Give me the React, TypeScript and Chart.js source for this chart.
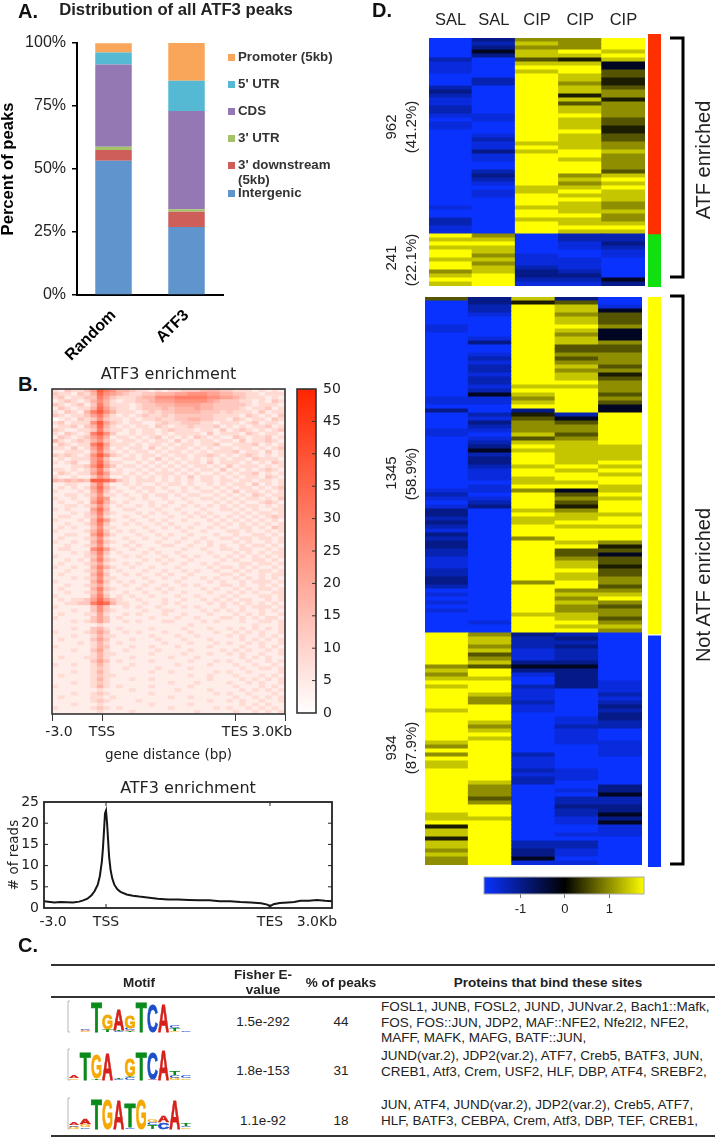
import React, { useEffect, useRef } from "react";
import { Chart, registerables } from "chart.js";

Chart.register(...registerables);
Chart.defaults.font.family = "'Liberation Sans', Arial, sans-serif";
Chart.defaults.color = "#222";

const SANS = "'Liberation Sans', Arial, sans-serif";
const DEJAVU = "'DejaVu Sans', sans-serif";

/* ---------- Panel A ---------- */
const peakCategories = ["Random", "ATF3"];
const intergenic = [53.3, 27];
const downstream = [4.2, 6];
const utr3 = [1.3, 1];
const cds = [32.7, 39];
const utr5 = [4.7, 12];
const promoter = [3.7, 15];
const percentTicks = [0, 25, 50, 75, 100];

/* ---------- Panel B ---------- */
const heatTitle = "ATF3 enrichment";
const heatColumnKeys = Array.from("abcdefghijklmnopqrstuvwxyzABCDEFGHIJ");
const heatRows = [
  "213223597 644322121 223334443 322212121",
  "322132486 543223344 455666554 433221222",
  "231223375 322234466 677777665 543222121",
  "123212464 212233455 566666543 332212132",
  "321231374 222123344 455554433 333212221",
  "132122485 322123334 344454433 332122312",
  "213214796 422212323 344443332 322213122",
  "321223574 212123223 233333322 221321213",
  "012132363 221212232 233443322 132122132",
  "231222695 321221123 223332212 221231221",
  "122313484 212122132 122322231 212122312",
  "321122373 221212212 322212213 123212123",
  "213212796 311212212 122221312 221321221",
  "132123574 122121231 212132121 132122312",
  "421232463 212212122 131212212 213122321",
  "132122795 222121221 212212231 122231212",
  "221312584 121221312 122121212 212212123",
  "112221473 212122121 221212122 231221312",
  "323212696 321212212 122122321 212321212",
  "121222573 112212131 212121212 122132221",
  "212311584 221121212 121221312 221212132",
  "111223695 312212121 212122121 312221212",
  "221212473 121121212 121212213 121212321",
  "132122585 221212122 212121121 212231212",
  "211211364 112121212 121312212 121221321",
  "434343998 632122212 121212212 212212212",
  "112211473 112121121 221211212 122131212",
  "121212584 211212212 112121121 212212123",
  "211121473 121121211 212112212 131221212",
  "112212362 212112122 121221121 212132122",
  "211211475 111212112 112112212 121221213",
  "121121584 212111211 211211121 212112321",
  "112212363 121121212 112121212 121221212",
  "212111584 112211121 121112112 212121122",
  "111212473 211121212 112121211 121212212",
  "122112362 112112111 211212121 212121232",
  "211121485 211211212 112111212 121212121",
  "112112473 112121121 211121121 212121212",
  "121211362 211112112 121211212 112212132",
  "211112473 121211211 112112111 221211212",
  "112211584 211121121 211211121 121122121",
  "121112362 112112112 112112112 212212212",
  "211211473 211211121 121121211 121211212",
  "112112362 112121112 211211212 112122121",
  "122111685 211211211 112112112 212211212",
  "111212473 121112121 121111211 121212122",
  "211112362 112121112 112121121 212121212",
  "112121473 211112121 211211112 121122121",
  "121112352 112121112 112112121 112212212",
  "211211474 211211211 121111212 212121121",
  "112112362 121112112 112121121 121212212",
  "121111473 112121121 211211112 212112122",
  "111212362 211112112 112112121 121212121",
  "211111473 121211211 121111212 112122212",
  "112112352 112112112 112121112 212112121",
  "121111473 211121121 211112121 121212212",
  "112112362 112112112 112111211 212121122",
  "211111473 121211211 121121112 121112212",
  "121223585 321121112 112112121 212211212",
  "112233798 422112112 121111212 121212121",
  "211111363 112121121 112121112 112122212",
  "111211363 211112112 211112121 212112121",
  "121112252 112121112 112111211 121212112",
  "211111353 121111211 121121112 212121221",
  "111212353 112121112 211112121 112112212",
  "111111121 111111111 111211111 111121112",
  "111211342 121111211 112111211 212121212",
  "211112353 112121112 111211121 121212112",
  "111211242 211111211 121121111 212112121",
  "121111353 111211121 112111211 112121212",
  "111121242 121111112 111211121 211212112",
  "211111243 111211211 121111211 112112121",
  "111211352 112111121 111211112 121211212",
  "111111242 211111211 112111211 212112112",
  "121112242 111211111 211121111 112121211",
  "111111353 121111211 111211121 211211212",
  "211211242 111211111 121111211 121121121",
  "111111232 112111121 111211111 112112212",
  "111211242 111111211 211111121 211211112",
  "121111232 211111111 111211211 121112121",
  "111111242 111211211 111111211 112121212",
  "111211232 111111111 211121111 211212112",
  "211111242 121111211 111211111 121112121",
  "111111121 111211111 121111211 112121212",
  "111211232 111111211 111111121 211211121",
  "121111221 211111111 211211111 121121212",
  "111111232 111121111 111111211 212112112",
  "111211121 111111211 111211111 112121211",
  "211111232 121111111 211111121 211212121",
  "111111121 111211111 111121111 121121212",
];
const heatTickValues = [-3, -2.58, 0, 7.98, 10.2, 10.98];
const heatTickLabels = ["", "-3.0", "TSS", "TES", "3.0Kb", ""];
const heatColourTicks = [0, 5, 10, 15, 20, 25, 30, 35, 40, 45, 50];

const profileKb = [-3, -2.8, -2.5, -2.2, -1.9, -1.6, -1.3, -1.1, -0.9, -0.7, -0.55, -0.4, -0.3, -0.2, -0.15, -0.1, -0.05, 0, 0.05, 0.1, 0.15, 0.22, 0.3, 0.4, 0.55, 0.7, 1, 1.3, 1.6, 2, 2.5, 3, 3.5, 4, 4.5, 5, 5.5, 6, 6.5, 7, 7.5, 7.8, 7.93, 8.1, 8.4, 8.8, 9.1, 9.4, 9.8, 10.2, 10.6, 10.93];
const profileReads = [1.6, 1.5, 1.3, 1.4, 1.35, 1.3, 1.5, 1.8, 2.2, 3, 4, 5.5, 7.5, 11, 14, 18, 22.3, 23, 20, 16, 12, 9, 7, 5.5, 4.4, 3.8, 3.2, 2.9, 2.7, 2.5, 2.2, 2, 2, 1.9, 1.8, 1.8, 1.6, 1.6, 1.4, 1.3, 1.1, 0.8, 0.4, 0.9, 1.2, 1.3, 1.4, 1.7, 1.7, 1.9, 1.7, 1.6];
const profileTickValues = [-2.56, 0, 7.93, 10.2];
const profileTickLabels = ["-3.0", "TSS", "TES", "3.0Kb"];
const profileYTicks = [0, 5, 10, 15, 20, 25];

/* ---------- Panel C ---------- */
const motifHeaders = ["Motif", "% of peaks", "Proteins that bind these sites"];
const eValues = ["1.5e-292", "1.8e-153", "1.1e-92"];
const percentPeaks = ["44", "31", "18"];
const proteins1 = ["FOSL1, JUNB, FOSL2, JUND, JUNvar.2, Bach1::Mafk,", "FOS, FOS::JUN, JDP2, MAF::NFE2, Nfe2l2, NFE2,", "MAFF, MAFK, MAFG, BATF::JUN,"];
const proteins2 = ["JUND(var.2), JDP2(var.2), ATF7, Creb5, BATF3, JUN,", "CREB1, Atf3, Crem, USF2, HLF, DBP, ATF4, SREBF2,"];
const proteins3 = ["JUN, ATF4, JUND(var.2), JDP2(var.2), Creb5, ATF7,", "HLF, BATF3, CEBPA, Crem, Atf3, DBP, TEF, CREB1,"];
type Stack = [string, number][];
const motif1: Stack[] = [[["C", 0.03]], [["G", 0.05], ["A", 0.08], ["C", 0.05], ["T", 0.03]], [["T", 1.94]], [["T", 0.2], ["G", 0.97]], [["C", 0.08], ["T", 0.08], ["A", 1.4]], [["T", 0.05], ["A", 0.1], ["C", 0.12], ["G", 0.8]], [["T", 1.94]], [["C", 1.83]], [["A", 1.83]], [["G", 0.05], ["T", 0.2], ["C", 0.2]], [["C", 0.05]]];
const motif2: Stack[] = [[["G", 0.1], ["A", 0.15]], [["T", 1.83]], [["T", 0.1], ["G", 1.55]], [["A", 1.72]], [["C", 0.05], ["T", 0.1]], [["C", 0.2], ["T", 0.05], ["G", 1.1]], [["T", 1.83]], [["A", 0.05], ["C", 1.7]], [["A", 2.0]], [["G", 0.15], ["C", 0.15], ["T", 0.25]], [["G", 0.1], ["C", 0.2]]];
const motif3: Stack[] = [[["G", 0.15], ["C", 0.1], ["A", 0.15]], [["C", 0.1], ["G", 0.2], ["A", 0.36]], [["T", 2.0]], [["G", 1.95]], [["A", 1.9]], [["C", 0.1], ["T", 1.55]], [["G", 1.95]], [["T", 0.25], ["C", 0.2], ["G", 0.15]], [["C", 0.45], ["A", 0.45]], [["A", 1.9]], [["G", 0.1], ["C", 0.1], ["T", 0.13]]];

/* ---------- Panel D ---------- */
const sampleColumns = ["SAL", "SAL", "CIP", "CIP", "CIP"];
const sampleKeys = ["s1", "s2", "c1", "c2", "c3"];
// one string per sample, one digit per band, levels index into expressionLevels
const expressionLevels = [-1.8, -1.55, -1.25, -0.95, -0.25, 0.2, 0.6, 1.0, 1.4, 1.8];
const cluster962 = [
  "0000021110002321122101100000000000000000001002211",
  "3234300000220000000110001211311002321011000000000",
  "7878868989999999999999999989899999999889998998999",
  "7779858998878858688988898888998999787898988898898",
  "9998984466556775777766556677877776898988877877898",
];
const cluster241 = [
  "9898998997898",
  "7898878788999",
  "0000011123321",
  "2211001112321",
  "2232110000043",
];
const cluster1345 = [
  "600000011000000000000000011030000110000000000000121013323213233221112233201010100000",
  "332210000013001212212212411002132101234233211101101230000000000000000000000000000100",
  "859999999999999999999989878935677786898999899889799998988999799999999997999999989999",
  "368878898788667678788989999992467767888888989989467657889899989667889889978787788989",
  "001466674447667776756777676449999999988889898998898999899899975646656677678976776787",
];
const cluster934 = [
  "9999999978789899999899999998797988999999999998895885887877",
  "7887867869989998779999878989999999999877767999899999999999",
  "3222111343100211121100000000002111212200000000000000223341",
  "2323222343333300000001121111000000111001022322110010221101",
  "0000000000001112123233220001111000000033422334341110000000",
];
const sidebarUpperBands = [[-1, 49], [49, 62.25]];
const sidebarUpperColours = ["#ff3000", "#10e010"];
const sidebarLowerBands = [[0, 84.2], [84.7, 142.5]];
const sidebarLowerColours = ["#ffff00", "#0a32ff"];
const scaleLimits = [-1.82, 1.78];
const scaleTicks = [-1, 0, 1];

/* ---------- helpers ---------- */
const mix = (a: number[], b: number[], t: number) =>
  `rgb(${a.map((v, i) => Math.round(v + (b[i] - v) * t)).join(",")})`;
const expressionColour = (v: number) => {
  const t = Math.min(1, Math.abs(v) / 1.8);
  return v < 0 ? mix([0, 0, 0], [10, 50, 255], t) : mix([0, 0, 0], [255, 255, 0], t);
};
const enrichmentColour = (v: number) => mix([255, 255, 255], [255, 38, 0], v / 50);

const frame = (color: string, width: number, inX: number[] = [], inY: number[] = [], bothY = true) => ({
  id: "frame",
  afterDraw(chart: any) {
    const { ctx, chartArea: a, scales } = chart;
    ctx.save();
    ctx.strokeStyle = color;
    ctx.lineWidth = width;
    ctx.strokeRect(a.left, a.top, a.right - a.left, a.bottom - a.top);
    ctx.lineWidth = 1;
    const xs = Object.values(scales).find((s: any) => s.axis === "x" && s.type === "linear") as any;
    const ys = Object.values(scales).find((s: any) => s.axis === "y" && s.type === "linear") as any;
    ctx.beginPath();
    if (xs) inX.forEach((v) => {
      const p = xs.getPixelForValue(v);
      ctx.moveTo(p, a.bottom); ctx.lineTo(p, a.bottom - 4);
      ctx.moveTo(p, a.top); ctx.lineTo(p, a.top + 4);
    });
    if (ys) inY.forEach((v) => {
      const p = ys.getPixelForValue(v);
      ctx.moveTo(a.right, p); ctx.lineTo(a.right - 4, p);
      if (bothY) { ctx.moveTo(a.left, p); ctx.lineTo(a.left + 4, p); }
    });
    ctx.stroke();
    ctx.restore();
  },
});

const setTicks = (vals: number[]) => (s: any) => { s.ticks = vals.map((value) => ({ value })); };

function ChartBox({ left, top, width, height, config }: any) {
  const ref = useRef<HTMLCanvasElement>(null);
  useEffect(() => {
    const c = new Chart(ref.current as any, config());
    return () => c.destroy();
  }, []);
  return <canvas ref={ref} width={width} height={height} style={{ position: "absolute", left, top, width, height, display: "block" }} />;
}

const base = { responsive: false, animation: false as const, devicePixelRatio: 1, maintainAspectRatio: false };
const noLegend = { legend: { display: false }, tooltip: { enabled: false } };

/* ---------- chart configs ---------- */
const seriesA = [
  { label: "Intergenic", data: intergenic, backgroundColor: "#5f95cc" },
  { label: "3' downstream (5kb)", data: downstream, backgroundColor: "#cd5e5a" },
  { label: "3' UTR", data: utr3, backgroundColor: "#a5c26a" },
  { label: "CDS", data: cds, backgroundColor: "#9378b3" },
  { label: "5' UTR", data: utr5, backgroundColor: "#55b9d3" },
  { label: "Promoter (5kb)", data: promoter, backgroundColor: "#f9a65a" },
];

const configA = () => ({
  type: "bar",
  data: { labels: peakCategories, datasets: seriesA.map((s) => ({ ...s, barPercentage: 0.5, categoryPercentage: 1, borderWidth: 0 })) },
  options: {
    ...base,
    layout: { padding: { right: 129, top: 43 } },
    plugins: noLegend,
    scales: {
      x: {
        stacked: true,
        grid: { display: false },
        border: { color: "#000", width: 2 },
        ticks: { font: { size: 16, weight: "bold" }, color: "#000", minRotation: 45, maxRotation: 45, autoSkip: false, padding: 3 },
        afterFit: (s: any) => { s.height = 75; },
      },
      y: {
        stacked: true,
        min: 0,
        max: 100,
        afterBuildTicks: setTicks(percentTicks),
        title: { display: true, text: "Percent of peaks", font: { size: 16.6, weight: "bold", lineHeight: 1 }, color: "#000", padding: 0 },
        grid: { drawOnChartArea: false, tickLength: 5, color: "#000", lineWidth: 1.5 },
        border: { color: "#000", width: 2 },
        ticks: { font: { size: 16 }, color: "#222", padding: 6, callback: (v: number) => v + "%" },
        afterFit: (s: any) => { s.width = 77; },
      },
    },
  },
});

const configHeat = () => {
  const cells: any[] = [];
  const colours: string[] = [];
  heatRows.forEach((row, r) => {
    Array.from(row.replace(/ /g, "")).forEach((d, c) => {
      cells.push({ x: heatColumnKeys[c], y: [r, r + 1] });
      colours.push(enrichmentColour(Number(d) * 4.2));
    });
  });
  return {
    type: "bar",
    data: {
      labels: heatColumnKeys,
      datasets: [{ data: cells, backgroundColor: colours, barPercentage: 1, categoryPercentage: 1, borderWidth: 0, inflateAmount: 0.5 }],
    },
    options: {
      ...base,
      layout: { padding: { left: 52, right: 51 } },
      plugins: {
        ...noLegend,
        title: { display: true, text: heatTitle, font: { family: DEJAVU, size: 16, weight: "normal" }, color: "#222", padding: { top: 5.4, bottom: 4.4 } },
      },
      scales: {
        x: { type: "category", labels: heatColumnKeys, display: false },
        y: { type: "linear", min: 0, max: heatRows.length, reverse: true, display: false },
        xKb: {
          type: "linear",
          axis: "x",
          position: "bottom",
          offset: false,
          min: -3,
          max: 10.98,
          afterBuildTicks: setTicks(heatTickValues),
          title: { display: true, text: "gene distance (bp)", font: { family: DEJAVU, size: 13.5, lineHeight: 1 }, color: "#222", padding: { top: 0, bottom: 8 } },
          grid: {
            offset: false,
            drawOnChartArea: false,
            tickLength: 7,
            tickColor: (c: any) => (heatTickLabels[heatTickValues.indexOf(c.tick?.value)] === "" || [0, 7.98].includes(c.tick?.value) ? "#333" : "transparent"),
          },
          border: { display: false },
          ticks: {
            font: { family: DEJAVU, size: 14 },
            color: "#222",
            padding: 3,
            autoSkip: false,
            maxRotation: 0,
            callback: (v: number) => heatTickLabels[heatTickValues.indexOf(v)],
          },
          afterFit: (s: any) => { s.height = 56; },
        },
      },
    },
    plugins: [frame("#333", 1.6)],
  };
};

const configHeatBar = () => ({
  type: "bar",
  data: {
    labels: ["v"],
    datasets: [{
      data: [[0, 50]],
      barPercentage: 1,
      categoryPercentage: 1,
      borderWidth: 0,
      backgroundColor: (c: any) => {
        const a = c.chart.chartArea;
        if (!a) return "#fff";
        const g = c.chart.ctx.createLinearGradient(0, a.bottom, 0, a.top);
        g.addColorStop(0, enrichmentColour(0));
        g.addColorStop(1, enrichmentColour(50));
        return g;
      },
    }],
  },
  options: {
    ...base,
    layout: { padding: { left: 7, top: 29, bottom: 32 } },
    plugins: noLegend,
    scales: {
      x: { display: false },
      y: {
        position: "right",
        min: 0,
        max: 50,
        afterBuildTicks: setTicks(heatColourTicks),
        grid: { display: false, drawTicks: false },
        border: { display: false },
        ticks: { font: { family: DEJAVU, size: 14 }, color: "#222", padding: 7 },
        afterFit: (s: any) => { s.width = 34; },
      },
    },
  },
  plugins: [frame("#333", 1.6, [], heatColourTicks.slice(1, -1), false)],
});

const configProfile = () => ({
  type: "line",
  data: {
    datasets: [{
      data: profileKb.map((x, i) => ({ x, y: profileReads[i] })),
      borderColor: "#161616",
      borderWidth: 2,
      pointRadius: 0,
      tension: 0,
    }],
  },
  options: {
    ...base,
    layout: { padding: { right: 44, top: 32 } },
    plugins: noLegend,
    scales: {
      x: {
        type: "linear",
        min: -3,
        max: 10.93,
        afterBuildTicks: setTicks(profileTickValues),
        grid: { display: false, drawTicks: false },
        border: { display: false },
        ticks: {
          font: { family: DEJAVU, size: 14 },
          color: "#222",
          padding: 6,
          autoSkip: false,
          maxRotation: 0,
          callback: (v: number) => profileTickLabels[profileTickValues.indexOf(v)],
        },
        afterFit: (s: any) => { s.height = 32; },
      },
      y: {
        type: "linear",
        min: 0,
        max: 25,
        afterBuildTicks: setTicks(profileYTicks),
        title: { display: true, text: "# of reads", font: { family: DEJAVU, size: 13.5, lineHeight: 1 }, color: "#222", padding: { top: 8, bottom: 0 } },
        grid: { display: false, drawTicks: false },
        border: { display: false },
        ticks: { font: { family: DEJAVU, size: 14 }, color: "#222", padding: 5 },
        afterFit: (s: any) => { s.width = 44; },
      },
    },
  },
  plugins: [frame("#222", 1.8, [0, 7.93], profileYTicks.slice(1, -1))],
});

const expressionChart = (clusters: string[][], showLabels: boolean, padding: any) => () => {
  const cells: any[] = [];
  const colours: string[] = [];
  let start = 0;
  clusters.forEach((cluster) => {
    cluster.forEach((col, c) => {
      Array.from(col).forEach((d, r) => {
        cells.push({ x: sampleKeys[c], y: [start + r, start + r + 1] });
        colours.push(expressionColour(expressionLevels[Number(d)]));
      });
    });
    start += cluster[0].length;
  });
  return {
    type: "bar",
    data: {
      labels: sampleKeys,
      datasets: [{ data: cells, backgroundColor: colours, barPercentage: 1, categoryPercentage: 1, borderWidth: 0, inflateAmount: 0.5 }],
    },
    options: {
      ...base,
      layout: { padding },
      plugins: noLegend,
      scales: {
        x: {
          display: showLabels,
          position: "top",
          grid: { display: false, drawTicks: false },
          border: { display: false },
          ticks: { font: { size: 16.5 }, color: "#222", padding: 8, maxRotation: 0, callback: (_: any, i: number) => sampleColumns[i] },
          afterFit: (s: any) => { s.height = showLabels ? 38 : 0; },
        },
        y: { type: "linear", min: 0, max: start, reverse: true, display: false },
      },
    },
  };
};

const sidebarChart = (bands: number[][], colours: string[], min: number, max: number) => () => ({
  type: "bar",
  data: {
    labels: ["b"],
    datasets: bands.map((b, i) => ({
      data: [b],
      backgroundColor: colours[i],
      barPercentage: 1,
      categoryPercentage: 1,
      borderWidth: 0,
      grouped: false,
    })),
  },
  options: {
    ...base,
    plugins: noLegend,
    scales: {
      x: { display: false },
      y: { type: "linear", min, max, reverse: true, display: false },
    },
  },
});

const configScale = () => ({
  type: "bar",
  data: {
    labels: ["v"],
    datasets: [{
      data: [scaleLimits],
      barPercentage: 1,
      categoryPercentage: 1,
      borderWidth: 0,
      backgroundColor: (c: any) => {
        const a = c.chart.chartArea;
        if (!a) return "#000";
        const g = c.chart.ctx.createLinearGradient(a.left, 0, a.right, 0);
        const span = scaleLimits[1] - scaleLimits[0];
        g.addColorStop(0, expressionColour(scaleLimits[0]));
        g.addColorStop((0 - scaleLimits[0]) / span, "#000");
        g.addColorStop(1, expressionColour(scaleLimits[1]));
        return g;
      },
    }],
  },
  options: {
    ...base,
    indexAxis: "y",
    layout: { padding: { left: 8, right: 12, top: 7 } },
    plugins: noLegend,
    scales: {
      y: { display: false },
      x: {
        type: "linear",
        min: scaleLimits[0],
        max: scaleLimits[1],
        afterBuildTicks: setTicks(scaleTicks),
        grid: { drawOnChartArea: false, tickLength: 4, color: "#777" },
        border: { display: false },
        ticks: { font: { size: 13 }, color: "#222", padding: 4, maxRotation: 0, callback: (v: number) => String(v) },
        afterFit: (s: any) => { s.height = 33; },
      },
    },
  },
  plugins: [frame("#aaa", 1)],
});

/* ---------- plain text helpers ---------- */
const T = ({ x, y, children, size = 13.5, bold = false, color = "#222", align = "center", family = SANS }: any) => (
  <div
    style={{
      position: "absolute",
      left: x,
      top: y,
      transform: `translate(${align === "center" ? "-50%" : "0"}, -50%)`,
      font: `${bold ? "bold " : ""}${size}px ${family}`,
      color,
      whiteSpace: "pre",
      lineHeight: 1.1,
    }}
  >
    {children}
  </div>
);
const V = ({ x, y, children, size = 15 }: any) => (
  <div
    style={{
      position: "absolute",
      left: x,
      top: y,
      transform: "translate(-50%, -50%) rotate(-90deg)",
      font: `${size}px ${SANS}`,
      color: "#222",
      whiteSpace: "pre",
    }}
  >
    {children}
  </div>
);

const logoColours: Record<string, string> = { T: "#0b8a1c", G: "#f5a800", A: "#d6211b", C: "#1c4fc9" };
const logoAdvance: Record<string, number> = { T: 0.611, G: 0.778, A: 0.722, C: 0.722 };

function Logo({ stacks, baseline }: { stacks: Stack[]; baseline: number }) {
  return (
    <g>
      <path d={`M70,${baseline - 31} H68 V${baseline} H70`} stroke="#999" fill="none" strokeWidth={0.7} />
      {stacks.map((stack, c) => {
        let y = baseline;
        const cx = 74 + c * 11.2;
        return stack.map(([letter, bits], k) => {
          const h = bits * 15.5;
          const el = (
            <text
              key={c + "-" + k}
              transform={`translate(${cx},${y}) scale(${11 / (logoAdvance[letter] * 10)},${h / 7.16})`}
              fontSize={10}
              fontWeight="bold"
              fontFamily={SANS}
              textAnchor="middle"
              fill={logoColours[letter]}
              stroke={logoColours[letter]}
              strokeWidth={h > 5 ? 0.8 : 0}
              vectorEffect="non-scaling-stroke"
            >
              {letter}
            </text>
          );
          y -= h;
          return el;
        });
      })}
    </g>
  );
}

const legendEntries = [
  { label: "Promoter (5kb)", colour: "#f9a65a", y: 57 },
  { label: "5' UTR", colour: "#55b9d3", y: 84 },
  { label: "CDS", colour: "#9378b3", y: 111 },
  { label: "3' UTR", colour: "#a5c26a", y: 138 },
  { label: "3' downstream", colour: "#cd5e5a", y: 165 },
  { label: "Intergenic", colour: "#5f95cc", y: 193 },
];

export default function App() {
  return (
    <div style={{ position: "absolute", left: 0, top: 0, width: 715, height: 1139, overflow: "hidden", background: "#fff" }}>
      {/* A */}
      <ChartBox left={0} top={0} width={352} height={370} config={configA} />
      <T x={18} y={11} bold size={20} align="left" color="#111">A.</T>
      <T x={176} y={10} bold size={16.7} color="#222">Distribution of all ATF3 peaks</T>
      {legendEntries.map((e) => (
        <React.Fragment key={e.label}>
          <div style={{ position: "absolute", left: 228, top: e.y - 3.5, width: 7, height: 7, background: e.colour }} />
          <T x={238} y={e.y} bold size={13.3} align="left" color="#333">{e.label}</T>
        </React.Fragment>
      ))}
      <T x={238} y={180} bold size={13.3} align="left" color="#333">(5kb)</T>

      {/* B */}
      <T x={18} y={384} bold size={20} align="left" color="#111">B.</T>
      <ChartBox left={0} top={360} width={336} height={410} config={configHeat} />
      <ChartBox left={290} top={360} width={60} height={385} config={configHeatBar} />
      <ChartBox left={0} top={770} width={376} height={170} config={configProfile} />
      <T x={188} y={788} size={16} family={DEJAVU}>{heatTitle}</T>

      {/* C */}
      <T x={18} y={945} bold size={20} align="left" color="#111">C.</T>
      <div style={{ position: "absolute", left: 51, top: 964, width: 664, height: 2, background: "#333" }} />
      <div style={{ position: "absolute", left: 51, top: 996, width: 664, height: 2, background: "#333" }} />
      <div style={{ position: "absolute", left: 51, top: 1135, width: 664, height: 2, background: "#333" }} />
      <T x={139} y={983} bold>{motifHeaders[0]}</T>
      <T x={263} y={975} bold>Fisher E-</T>
      <T x={263} y={990} bold>value</T>
      <T x={341} y={983} bold>{motifHeaders[1]}</T>
      <T x={548} y={983} bold>{motifHeaders[2]}</T>
      <T x={263} y={1022}>{eValues[0]}</T>
      <T x={341} y={1022}>{percentPeaks[0]}</T>
      <T x={263} y={1071}>{eValues[1]}</T>
      <T x={341} y={1071}>{percentPeaks[1]}</T>
      <T x={263} y={1121}>{eValues[2]}</T>
      <T x={341} y={1121}>{percentPeaks[2]}</T>
      {proteins1.map((l, i) => <T key={l} x={381} y={1007 + i * 15.5} align="left">{l}</T>)}
      {proteins2.map((l, i) => <T key={l} x={381} y={1056 + i * 16} align="left">{l}</T>)}
      {proteins3.map((l, i) => <T key={l} x={381} y={1105 + i * 16} align="left">{l}</T>)}
      <svg width={715} height={1139} style={{ position: "absolute", left: 0, top: 0, pointerEvents: "none" }}>
        <Logo stacks={motif1} baseline={1032} />
        <Logo stacks={motif2} baseline={1080} />
        <Logo stacks={motif3} baseline={1129} />
        <path d="M670,38 H683 V277 H670" fill="none" stroke="#000" strokeWidth={3} />
        <path d="M670,296 H683 V864 H670" fill="none" stroke="#000" strokeWidth={3} />
      </svg>

      {/* D */}
      <T x={372} y={10} bold size={20} align="left" color="#111">D.</T>
      <ChartBox left={420} top={0} width={235} height={290} config={expressionChart([cluster962, cluster241], true, { left: 9, right: 10, bottom: 4 })} />
      <ChartBox left={420} top={290} width={235} height={580} config={expressionChart([cluster1345, cluster934], false, { left: 5, right: 13, top: 7, bottom: 5 })} />
      <ChartBox left={648} top={34} width={13} height={253} config={sidebarChart(sidebarUpperBands, sidebarUpperColours, -1, 62.25)} />
      <ChartBox left={648} top={297} width={13} height={570} config={sidebarChart(sidebarLowerBands, sidebarLowerColours, 0, 142.5)} />
      <ChartBox left={476} top={870} width={180} height={57} config={configScale} />

      <V x={390} y={127}>962</V>
      <V x={410} y={127}>(41.2%)</V>
      <V x={390} y={258}>241</V>
      <V x={410} y={260}>(22.1%)</V>
      <V x={390} y={473}>1345</V>
      <V x={410} y={474}>(58.9%)</V>
      <V x={390} y={748}>934</V>
      <V x={410} y={748}>(87.9%)</V>
      <V x={703} y={160} size={20}>ATF enriched</V>
      <V x={703} y={585} size={20}>Not ATF enriched</V>
    </div>
  );
}
